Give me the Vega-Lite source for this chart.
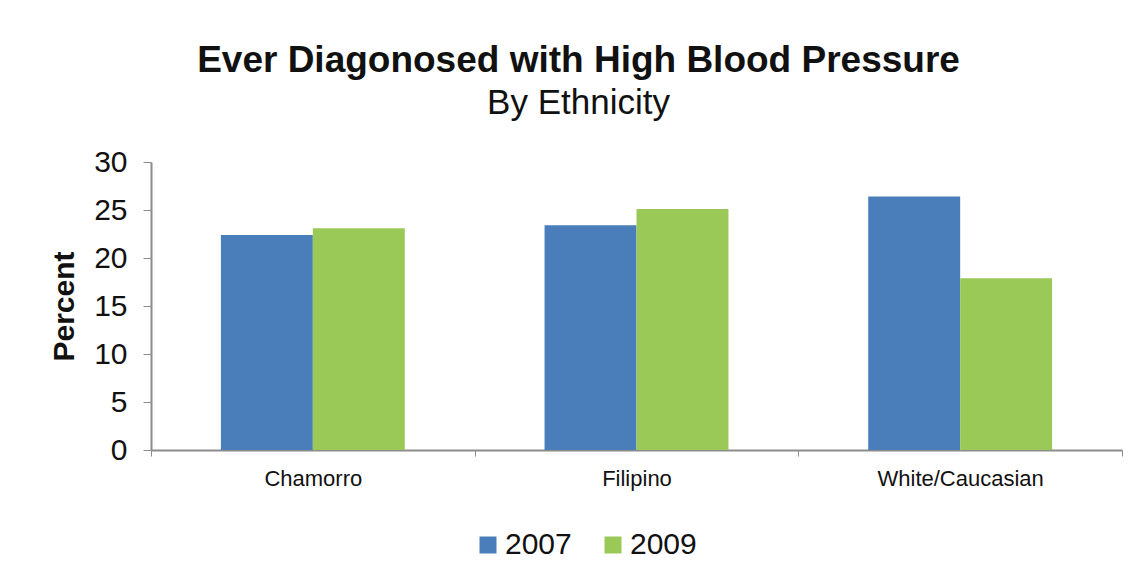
{
  "$schema": "https://vega.github.io/schema/vega-lite/v6.json",
  "width": 971,
  "height": 288,
  "autosize": "none",
  "padding": {"left": 151, "top": 162, "right": 25, "bottom": 129},
  "background": "white",
  "title": {
    "text": "Ever Diagonosed with High Blood Pressure",
    "subtitle": "By Ethnicity",
    "anchor": "middle",
    "dx": -58,
    "offset": 25,
    "font": "Liberation Sans",
    "fontSize": 37,
    "fontWeight": "bold",
    "color": "#111111",
    "subtitleFont": "Liberation Sans",
    "subtitleFontSize": 35,
    "subtitleColor": "#111111",
    "subtitlePadding": 6
  },
  "data": {
    "values": [
      {"ethnicity": "Chamorro", "year": "2007", "percent": 22.4},
      {"ethnicity": "Chamorro", "year": "2009", "percent": 23.1},
      {"ethnicity": "Filipino", "year": "2007", "percent": 23.4},
      {"ethnicity": "Filipino", "year": "2009", "percent": 25.1},
      {"ethnicity": "White/Caucasian", "year": "2007", "percent": 26.4},
      {"ethnicity": "White/Caucasian", "year": "2009", "percent": 17.9}
    ]
  },
  "mark": {"type": "bar"},
  "encoding": {
    "x": {
      "field": "ethnicity",
      "type": "nominal",
      "sort": null,
      "title": null,
      "scale": {"paddingInner": 0, "paddingOuter": 0},
      "axis": {
        "labelAngle": 0,
        "labelFont": "Liberation Sans",
        "labelFontSize": 22,
        "labelColor": "#111111",
        "labelPadding": 12,
        "tickBand": "extent",
        "tickColor": "#8c8c8c",
        "tickSize": 6,
        "domainColor": "#8c8c8c",
        "domainWidth": 2
      }
    },
    "xOffset": {
      "field": "year",
      "type": "nominal",
      "scale": {"paddingInner": 0, "paddingOuter": 0.76}
    },
    "y": {
      "field": "percent",
      "type": "quantitative",
      "title": "Percent",
      "scale": {"domain": [0, 30], "nice": false},
      "axis": {
        "values": [0, 5, 10, 15, 20, 25, 30],
        "grid": false,
        "labelFont": "Liberation Sans",
        "labelFontSize": 30,
        "labelColor": "#111111",
        "labelPadding": 16,
        "tickColor": "#8c8c8c",
        "tickSize": 8,
        "domainColor": "#8c8c8c",
        "domainWidth": 2,
        "titleFont": "Liberation Sans",
        "titleFontSize": 30,
        "titleFontWeight": "bold",
        "titleColor": "#111111",
        "titlePadding": 14
      }
    },
    "color": {
      "field": "year",
      "type": "nominal",
      "title": null,
      "scale": {"domain": ["2007", "2009"], "range": ["#4a7ebb", "#9bc957"]},
      "legend": {
        "orient": "none",
        "legendX": 322,
        "legendY": 368,
        "padding": 0,
        "direction": "horizontal",
        "symbolType": "square",
        "symbolSize": 289,
        "symbolStrokeWidth": 0,
        "labelFont": "Liberation Sans",
        "labelFontSize": 30,
        "labelColor": "#111111",
        "labelOffset": 2,
        "columnPadding": 26
      }
    }
  },
  "config": {"view": {"stroke": null}}
}
